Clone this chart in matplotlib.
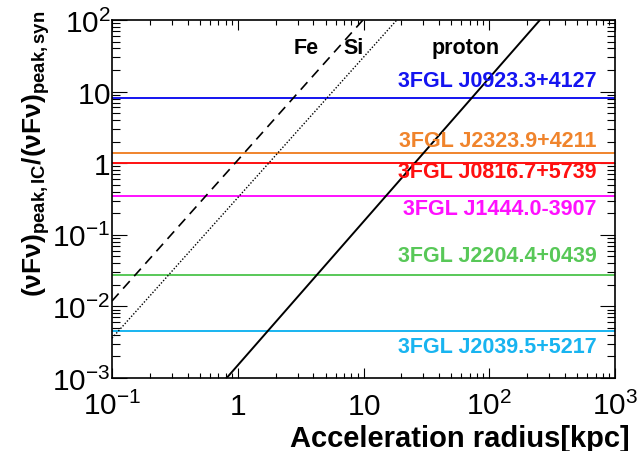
import numpy as np
import matplotlib
matplotlib.use("Agg")
from matplotlib import pyplot as plt
from matplotlib.ticker import FixedLocator, LogLocator, NullFormatter

plt.rcParams['font.family'] = ['Liberation Sans', 'DejaVu Sans']
plt.rcParams['mathtext.fontset'] = 'custom'
plt.rcParams['mathtext.rm'] = 'Liberation Sans'
plt.rcParams['mathtext.bf'] = 'Liberation Sans:bold'
plt.rcParams['mathtext.it'] = 'Liberation Sans:italic'

# sources: name, ratio of peak fluxes, colour
sources = ["3FGL J0923.3+4127", "3FGL J2323.9+4211", "3FGL J0816.7+5739",
           "3FGL J1444.0-3907", "3FGL J2204.4+0439", "3FGL J2039.5+5217"]
ratios = [8.1, 1.39, 1.0, 0.346, 0.0275, 0.00456]
colors = ["#1414f0", "#f0842c", "#ff1010", "#ff10ff", "#58c858", "#18b4f0"]
label_y = [14.3, 2.08, 0.76, 0.233, 0.052, 0.00277]

# acceleration limits (two end points each, straight in log-log)
fe_x = [0.1, 9.9]
fe_y = [0.0119, 100]
si_x = [0.1, 18.4]
si_y = [0.0036, 100]
p_x = [0.816, 253]
p_y = [0.001, 100]

xticks = [0.1, 1, 10, 100, 1000]
xlabels = [r"$10^{-1}$", r"$1$", r"$10$", r"$10^{2}$", r"$10^{3}$"]
yticks = [0.001, 0.01, 0.1, 1, 10, 100]
ylabels = [r"$10^{-3}$", r"$10^{-2}$", r"$10^{-1}$", r"$1$", r"$10$", r"$10^{2}$"]

fig = plt.figure(figsize=(6.37, 4.52), dpi=100)
ax = fig.add_axes([112/637, 1-379/452, 503/637, 358/452])
ax.set_xscale('log')
ax.set_yscale('log')
ax.set_xlim(0.1, 1000)
ax.set_ylim(0.001, 100)

for r, c in zip(ratios, colors):
    ax.axhline(r, color=c, lw=1.4)
# x in axes fraction, y in data
tr = ax.get_yaxis_transform()
for name, ly, c in zip(sources, label_y, colors):
    ax.text(0.964, ly, name, color=c, fontsize=15.5, fontweight='bold',
            ha='right', va='center', transform=tr)

ax.plot(fe_x, fe_y, color='black', lw=1.2, ls=(0, (6, 4)))
ax.plot(si_x, si_y, color='black', lw=1.0, ls=(0, (1, 1.3)))
ax.plot(p_x, p_y, color='black', lw=1.4)

ax.text(3.5, 41, "Fe", fontsize=15.5, fontweight='bold', ha='center', va='center')
ax.text(8.3, 41, "Si", fontsize=15.5, fontweight='bold', ha='center', va='center')
ax.text(65, 41, "proton", fontsize=15.5, fontweight='bold', ha='center', va='center')

ax.xaxis.set_major_locator(FixedLocator(xticks))
ax.set_xticklabels(xlabels)
ax.yaxis.set_major_locator(FixedLocator(yticks))
ax.set_yticklabels(ylabels)
ax.xaxis.set_minor_locator(LogLocator(base=10, subs=np.arange(2, 10), numticks=20))
ax.yaxis.set_minor_locator(LogLocator(base=10, subs=np.arange(2, 10), numticks=20))
ax.xaxis.set_minor_formatter(NullFormatter())
ax.yaxis.set_minor_formatter(NullFormatter())

ax.tick_params(axis='both', which='both', direction='in', top=True, right=True,
               width=0.8, labelsize=21.5)
ax.tick_params(axis='y', which='major', length=11, pad=1)
ax.tick_params(axis='y', which='minor', length=5.5)
ax.tick_params(axis='x', which='major', length=7, pad=26)
ax.tick_params(axis='x', which='minor', length=3.6)
for lbl in ax.get_xticklabels():
    lbl.set_va('baseline')
for s in ax.spines.values():
    s.set_linewidth(1.2)

fig.text(630/637, 1-447/452, "Acceleration radius[kpc]", fontsize=21,
         fontweight='bold', ha='right', va='baseline')
fig.text(0.056, 0.66, r"$\mathbf{(νFν)_{peak,IC}/(νFν)_{peak,syn}}$",
         fontsize=19, rotation=90, ha='center', va='center')

fig.savefig("out.png", dpi=100)
